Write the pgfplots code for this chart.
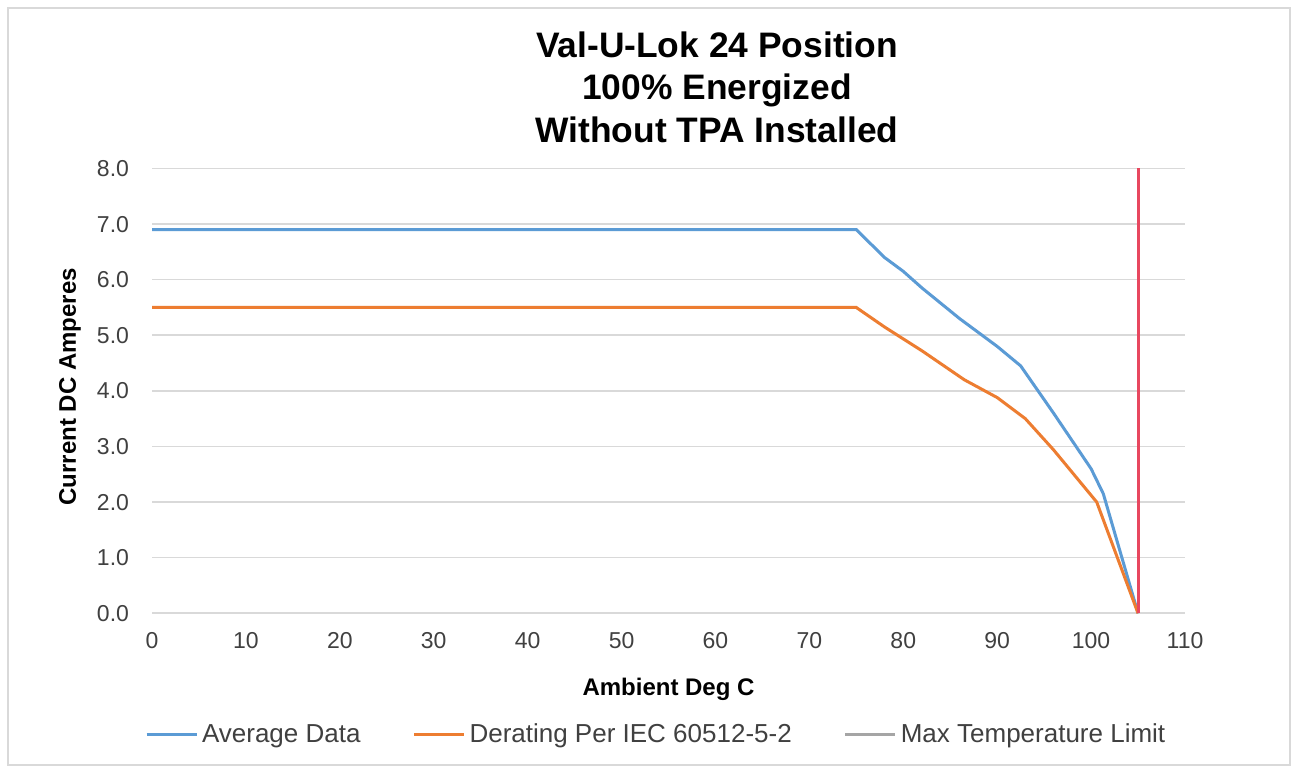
\documentclass[border=0pt]{standalone}
\usepackage{fontspec}
\setmainfont{Liberation Sans}
\usepackage{pgfplots}
\pgfplotsset{compat=1.18}
\definecolor{xblue}{HTML}{5B9BD5}
\definecolor{xorange}{HTML}{ED7D31}
\definecolor{xgray}{HTML}{A5A5A5}
\definecolor{xred}{HTML}{E8475F}
\definecolor{xgrid}{HTML}{D9D9D9}
\begin{document}
\begin{tikzpicture}
\path[use as bounding box, fill=white] (0,0) rectangle (648pt,385pt);
\draw[xgrid, line width=1pt] (4pt,2.5pt) rectangle (645pt,381pt);
\node[anchor=base, font=\fontsize{17.7}{20}\bfseries\selectfont] at (358.5pt,356.2pt) {Val-U-Lok 24 Position};
\node[anchor=base, font=\fontsize{17.7}{20}\bfseries\selectfont] at (358.5pt,335pt) {100\% Energized};
\node[anchor=base, font=\fontsize{17.7}{20}\bfseries\selectfont] at (358.5pt,313.7pt) {Without TPA Installed};
\begin{axis}[
  at={(76pt,78.35pt)}, anchor=south west,
  scale only axis, width=516.5pt, height=222.4pt,
  xmin=0, xmax=110, ymin=0, ymax=8,
  xtick={0,10,...,110}, ytick={0,1,...,8},
  ymajorgrids, major grid style={xgrid, line width=0.8pt},
  axis line style={draw=none}, tick style={draw=none},
  /pgf/number format/assume math mode=true,
  ticklabel style={font=\fontsize{11.5}{13}\selectfont, text=black!75},
  yticklabel={\pgfmathprintnumber[fixed,fixed zerofill,precision=1]{\tick}},
  yticklabel style={anchor=east, xshift=-8pt},
  xticklabel style={anchor=north, yshift=-6pt},
  xlabel={Ambient Deg C},
  ylabel={Current DC Amperes},
  label style={font=\fontsize{12}{14}\bfseries\selectfont},
  xlabel style={at={(axis description cs:0.5,0)}, anchor=center, yshift=-38pt},
  ylabel style={at={(axis description cs:0,0.5)}, anchor=center, xshift=2pt, yshift=41pt},
  legend columns=3,
  legend style={at={(0.489,-0.2736)}, anchor=center, draw=none, fill=none,
    font=\fontsize{13}{15}\selectfont, text=black!75,
    /tikz/every even column/.append style={column sep=24pt}},
  legend image code/.code={\draw[#1] (0pt,0pt) -- (25pt,0pt);},
]
\addplot[xblue, line width=1.5pt] coordinates {
 (0,6.9) (75,6.9) (78,6.4) (80,6.15) (82,5.85) (86,5.3) (90,4.8) (92.5,4.45) (96,3.6) (100,2.6) (101.3,2.15) (105,0)
};
\addlegendentry{Average Data}
\addplot[xorange, line width=1.5pt] coordinates {
 (0,5.5) (75,5.5) (78,5.15) (82,4.72) (86.5,4.2) (90,3.88) (93,3.5) (96,2.94) (100.6,2.0) (105,0)
};
\addlegendentry{Derating Per IEC 60512-5-2}
\addplot[xred, line width=1.5pt, forget plot] coordinates {(105,0) (105,8)};
\addlegendimage{xgray, line width=1.5pt}
\addlegendentry{Max Temperature Limit}
\end{axis}
\end{tikzpicture}
\end{document}
